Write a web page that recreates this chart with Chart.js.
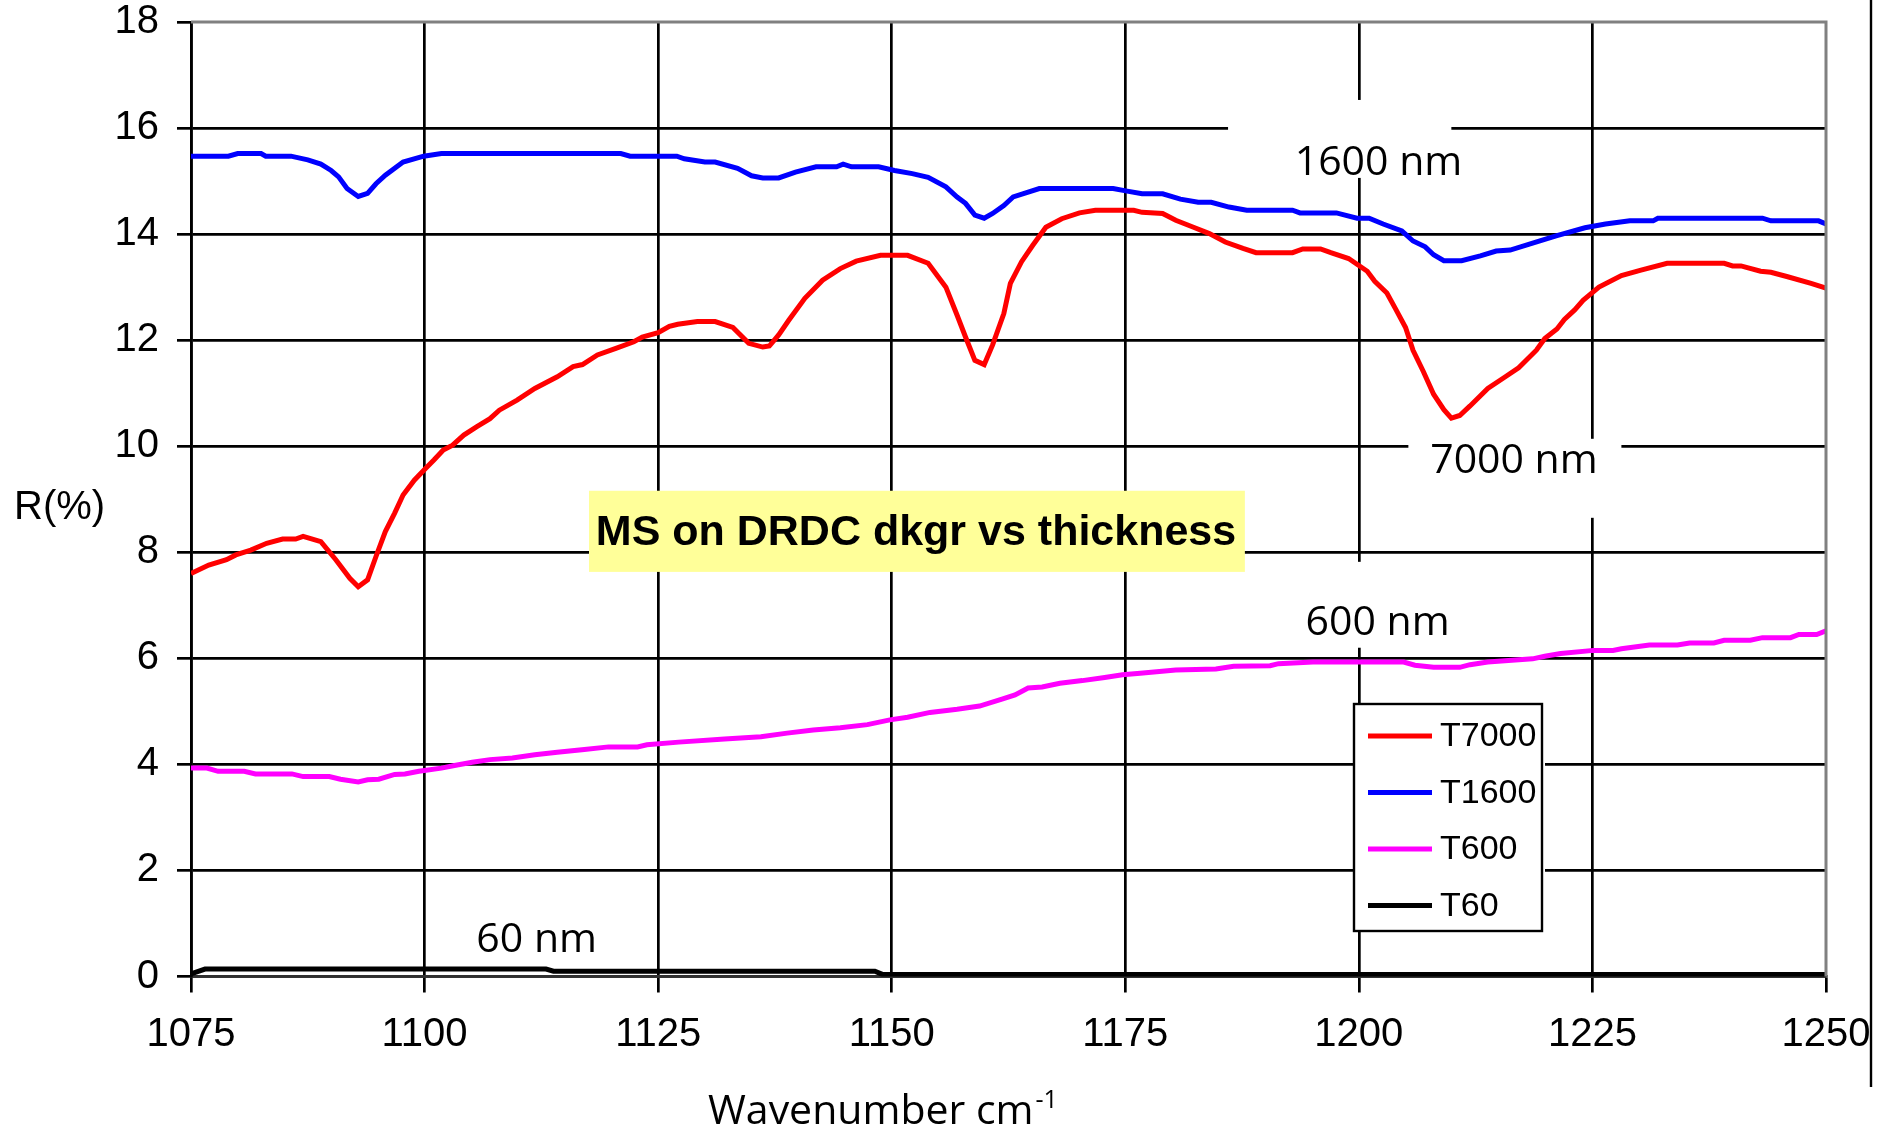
<!DOCTYPE html>
<html><head><meta charset="utf-8">
<script src="https://cdn.jsdelivr.net/npm/chart.js@4.4.1/dist/chart.umd.min.js"></script>
<style>html,body{margin:0;padding:0;background:#fff}#wrap{width:1882px;height:1128px;position:relative}</style>
</head><body><div id="wrap"><canvas id="c" width="1882" height="1128"></canvas></div>
<script>
// ---------------- DATA ----------------
const seriesNames = ['T7000', 'T1600', 'T600', 'T60'];
const seriesColors = ['#FF0000', '#0000FF', '#FF00FF', '#000000'];

const T7000 = [[1075,7.6],[1076.9,7.76],[1078.8,7.86],[1079.8,7.95],[1081.4,8.04],[1083.1,8.17],[1084.8,8.25],[1086.2,8.25],[1087,8.3],[1088.9,8.2],[1090.5,7.86],[1092,7.51],[1092.9,7.35],[1093.9,7.48],[1094.8,7.92],[1095.8,8.39],[1096.8,8.74],[1097.7,9.08],[1098.9,9.36],[1100.1,9.58],[1101,9.74],[1102,9.93],[1103,10.02],[1104.2,10.21],[1105.6,10.37],[1107,10.52],[1108,10.68],[1109.9,10.87],[1111.8,11.09],[1114.2,11.31],[1115.9,11.5],[1116.9,11.54],[1118.5,11.72],[1120.4,11.84],[1122.4,11.97],[1123.3,12.06],[1125,12.14],[1126.2,12.26],[1127.1,12.3],[1129.2,12.35],[1131.1,12.35],[1133,12.24],[1134.7,11.94],[1136.2,11.87],[1136.9,11.89],[1137.9,12.1],[1139,12.38],[1140.7,12.79],[1142.6,13.13],[1144.5,13.35],[1146.2,13.49],[1148.8,13.6],[1151.7,13.6],[1153.9,13.45],[1155.8,13.0],[1157,12.47],[1157.9,12.06],[1158.9,11.62],[1159.9,11.54],[1160.8,11.91],[1162,12.5],[1162.7,13.07],[1163.9,13.48],[1165.1,13.79],[1166.5,14.13],[1168.2,14.29],[1170.1,14.4],[1171.8,14.45],[1175.9,14.45],[1176.8,14.41],[1179,14.39],[1180.4,14.26],[1182.3,14.13],[1184,14.01],[1185.7,13.85],[1187.6,13.73],[1189,13.65],[1192.9,13.65],[1194,13.72],[1195.9,13.72],[1197,13.65],[1198.9,13.54],[1200.9,13.3],[1201.7,13.11],[1203,12.89],[1203.9,12.6],[1205,12.24],[1205.8,11.81],[1206.9,11.41],[1208,10.98],[1209.1,10.69],[1209.9,10.53],[1210.8,10.58],[1211.9,10.76],[1213.8,11.09],[1215.6,11.3],[1217.1,11.48],[1219,11.81],[1219.9,12.03],[1221.2,12.21],[1222,12.39],[1223.1,12.57],[1224,12.75],[1225.7,13.0],[1228.1,13.22],[1230.2,13.32],[1233,13.45],[1239.1,13.45],[1240,13.4],[1240.9,13.4],[1243,13.3],[1244.1,13.28],[1245.8,13.2],[1248.4,13.07],[1250,12.98]];

const T1600 = [[1075,15.47],[1077,15.47],[1079,15.47],[1080,15.52],[1082.5,15.52],[1083,15.47],[1085.7,15.47],[1087.5,15.4],[1088.9,15.32],[1090,15.2],[1090.8,15.08],[1091.7,14.86],[1092.9,14.71],[1093.9,14.77],[1094.8,14.95],[1095.8,15.11],[1097.7,15.36],[1099.9,15.47],[1101.8,15.52],[1121,15.52],[1122,15.47],[1127,15.47],[1127.8,15.42],[1130,15.36],[1131.1,15.36],[1133.5,15.24],[1135,15.1],[1136.2,15.06],[1137.9,15.06],[1139.7,15.17],[1141.9,15.27],[1144.1,15.27],[1144.8,15.32],[1145.7,15.27],[1148.6,15.27],[1150.3,15.2],[1152.2,15.14],[1153.9,15.07],[1155.8,14.89],[1157,14.7],[1157.9,14.58],[1158.9,14.36],[1159.9,14.3],[1160.8,14.39],[1162,14.54],[1163,14.7],[1165.8,14.86],[1173.7,14.86],[1175.2,14.81],[1176.8,14.76],[1179,14.76],[1180.9,14.66],[1182.8,14.6],[1184.2,14.6],[1186.1,14.51],[1188,14.45],[1192.9,14.45],[1193.7,14.4],[1197.6,14.4],[1199.8,14.3],[1201.1,14.3],[1202.6,14.19],[1204.6,14.06],[1205.8,13.87],[1207.1,13.76],[1208,13.61],[1209.1,13.5],[1211,13.5],[1213,13.59],[1214.7,13.68],[1216.2,13.7],[1218.6,13.83],[1221.2,13.97],[1224.2,14.12],[1226.4,14.19],[1229,14.25],[1231.5,14.25],[1232,14.3],[1243.2,14.3],[1244.1,14.25],[1249.2,14.25],[1250,14.19]];

const T600 = [[1075,3.93],[1076.7,3.93],[1077.9,3.87],[1080.7,3.87],[1081.9,3.82],[1085.8,3.82],[1087,3.77],[1089.8,3.77],[1091,3.72],[1092.9,3.67],[1093.9,3.71],[1095.1,3.72],[1096.8,3.81],[1097.9,3.82],[1099.4,3.87],[1101.8,3.93],[1103.2,3.98],[1105.1,4.04],[1107,4.09],[1109.4,4.12],[1111.8,4.18],[1114.2,4.23],[1117.1,4.28],[1119.7,4.33],[1122.8,4.33],[1123.8,4.37],[1127.2,4.42],[1132.1,4.48],[1136,4.52],[1138.8,4.59],[1141.6,4.65],[1144.5,4.69],[1147.4,4.75],[1149.8,4.84],[1151.7,4.89],[1154.1,4.98],[1157,5.04],[1159.4,5.1],[1161.8,5.23],[1163.2,5.31],[1164.6,5.44],[1166.1,5.46],[1168,5.53],[1170.4,5.58],[1172.8,5.64],[1174.7,5.69],[1176.6,5.72],[1180.4,5.78],[1184.7,5.8],[1186.6,5.85],[1190.5,5.86],[1191.4,5.9],[1195.1,5.93],[1204.8,5.93],[1206,5.87],[1208,5.83],[1210.8,5.83],[1211.9,5.88],[1213.8,5.93],[1216,5.96],[1218.6,5.99],[1219.9,6.04],[1221.6,6.09],[1225.1,6.15],[1227.2,6.15],[1228.1,6.18],[1231.1,6.25],[1234.1,6.25],[1235.4,6.29],[1238,6.29],[1239.1,6.34],[1241.9,6.34],[1243.2,6.39],[1246.2,6.39],[1247.1,6.45],[1249,6.45],[1250,6.52]];

const T60 = [[1075,0.05],[1076.5,0.14],[1113,0.14],[1113.8,0.1],[1148.2,0.1],[1149,0.04],[1250,0.04]];

const xTickValues = [1075, 1100, 1125, 1150, 1175, 1200, 1225, 1250];
const yTickValues = [0, 2, 4, 6, 8, 10, 12, 14, 16, 18];

const chartTitle = 'MS on DRDC dkgr vs thickness';
const yAxisTitle = 'R(%)';
const xAxisTitle = 'Wavenumber cm';
const xAxisTitleSup = '-1';
const curveLabels = ['1600 nm', '7000 nm', '600 nm', '60 nm'];

// ---------------- LAYOUT (data coordinates for anchors) ----------------
const labelAnchors = [
  {cx: 1202.1, base: 15.12, box: [1186.0, 16.53, 1209.9, 15.06]},
  {cx: 1216.6, base: 9.50, box: [1205.3, 10.14, 1228.1, 8.65]},
  {cx: 1202.0, base: 6.44, box: [1192.7, 7.82, 1211.4, 6.20]},
  {cx: 1112.0, base: 0.47, box: null}
];
const titleLayout = {cx: 1152.6, base: 8.14, box: [1117.6, 9.16, 1187.8, 7.63]};

const seriesList = [T7000, T1600, T600, T60];
const datasets = seriesList.map((s, i) => ({
  label: seriesNames[i],
  data: s.map(p => ({x: p[0], y: p[1]})),
  borderColor: seriesColors[i],
  backgroundColor: seriesColors[i],
  borderWidth: 5,
  pointRadius: 0,
  tension: 0,
  fill: false
}));

const ARIAL = "'Liberation Sans', Arial, sans-serif";
const CALIBRI = "'Open Sans', 'Noto Sans', sans-serif";

const overlay = {
  id: 'overlay',
  beforeDatasetsDraw(chart) {
    const {ctx, scales: {x, y}} = chart;
    ctx.save();
    labelAnchors.forEach((a) => {
      if (a.box) {
        const x0 = x.getPixelForValue(a.box[0]), y0 = y.getPixelForValue(a.box[1]);
        const x1 = x.getPixelForValue(a.box[2]), y1 = y.getPixelForValue(a.box[3]);
        ctx.fillStyle = '#FFFFFF';
        ctx.fillRect(x0, y0, x1 - x0, y1 - y0);
      }
    });
    {
      const b = titleLayout.box;
      const x0 = x.getPixelForValue(b[0]), y0 = y.getPixelForValue(b[1]);
      const x1 = x.getPixelForValue(b[2]), y1 = y.getPixelForValue(b[3]);
      ctx.fillStyle = '#FFFF99';
      ctx.fillRect(x0, y0, x1 - x0, y1 - y0);
      ctx.fillStyle = '#000';
      ctx.font = "bold 43px " + ARIAL;
      ctx.textAlign = 'center';
      ctx.textBaseline = 'alphabetic';
      ctx.fillText(chartTitle, x.getPixelForValue(titleLayout.cx), y.getPixelForValue(titleLayout.base));
    }
    ctx.font = "41px " + CALIBRI;
    ctx.fillStyle = '#000';
    ctx.textAlign = 'center';
    ctx.textBaseline = 'alphabetic';
    labelAnchors.forEach((a, i) => {
      ctx.fillText(curveLabels[i], x.getPixelForValue(a.cx), y.getPixelForValue(a.base));
    });
    ctx.restore();
  },
  afterDatasetsDraw(chart) {
    const {ctx, chartArea} = chart;
    ctx.save();
    ctx.strokeStyle = '#808080';
    ctx.lineWidth = 3;
    ctx.beginPath();
    ctx.moveTo(chartArea.left, chartArea.top);
    ctx.lineTo(chartArea.right, chartArea.top);
    ctx.lineTo(chartArea.right, chartArea.bottom);
    ctx.stroke();
    // legend
    const lx = 1354, ly = 704, lw = 188, lh = 227;
    ctx.fillStyle = '#FFFFFF';
    ctx.fillRect(lx, ly, lw + 3, lh);
    ctx.strokeStyle = '#000';
    ctx.lineWidth = 2.4;
    ctx.strokeRect(lx, ly, lw, lh);
    ctx.font = "34px " + ARIAL;
    ctx.textAlign = 'left';
    ctx.textBaseline = 'middle';
    chart.data.datasets.forEach((ds, i) => {
      const cy = ly + 32 + i * 56.5;
      ctx.strokeStyle = ds.borderColor;
      ctx.lineWidth = 5;
      ctx.beginPath();
      ctx.moveTo(lx + 14, cy);
      ctx.lineTo(lx + 78, cy);
      ctx.stroke();
      ctx.fillStyle = '#000';
      ctx.fillText(ds.label, lx + 86, cy + 1);
    });
    ctx.font = "40px " + ARIAL;
    ctx.textAlign = 'left';
    ctx.textBaseline = 'middle';
    ctx.fillText(yAxisTitle, 14, 508);
    ctx.font = "41px " + CALIBRI;
    ctx.textBaseline = 'alphabetic';
    ctx.fillText(xAxisTitle, 708, 1124);
    const w = ctx.measureText(xAxisTitle).width;
    ctx.font = "25px " + CALIBRI;
    ctx.fillText(xAxisTitleSup, 708 + w + 2, 1108);
    ctx.strokeStyle = '#000';
    ctx.lineWidth = 2.4;
    ctx.beginPath();
    ctx.moveTo(1871, 0);
    ctx.lineTo(1871, 1087);
    ctx.stroke();
    ctx.restore();
  }
};

new Chart(document.getElementById('c'), {
  type: 'line',
  data: {datasets},
  options: {
    responsive: false,
    animation: false,
    events: [],
    layout: {padding: {top: 22, right: 56, left: 0, bottom: 0}},
    plugins: {legend: {display: false}, tooltip: {enabled: false}, title: {display: false}},
    scales: {
      x: {
        type: 'linear', min: 1075, max: 1250,
        afterBuildTicks(scale) { scale.ticks = xTickValues.map(v => ({value: v})); },
        afterFit(scale) { scale.height = 151.5; scale.paddingLeft = 0; scale.paddingRight = 0; },
        ticks: {color: '#000', font: {family: ARIAL, size: 40, lineHeight: 1}, padding: 22, maxRotation: 0, autoSkip: false,
                callback: v => String(v)},
        grid: {
          color: ctx => (ctx.tick && ctx.tick.value === 1250) ? 'rgba(0,0,0,0)' : '#000',
          lineWidth: 2.7, tickLength: 16, tickColor: '#000', tickWidth: 2.7
        },
        border: {display: true, color: '#303030', width: 2.7}
      },
      y: {
        min: 0, max: 18,
        afterBuildTicks(scale) { scale.ticks = yTickValues.map(v => ({value: v})); },
        afterFit(scale) { scale.width = 191; scale.paddingTop = 0; scale.paddingBottom = 0; },
        ticks: {color: '#000', font: {family: ARIAL, size: 40, lineHeight: 1}, padding: 18,
                callback: v => String(v)},
        grid: {
          color: ctx => (ctx.tick && ctx.tick.value === 18) ? 'rgba(0,0,0,0)' : '#000',
          lineWidth: 2.7, tickLength: 14, tickColor: '#000', tickWidth: 2.7
        },
        border: {display: true, color: '#000', width: 2.7}
      }
    }
  },
  plugins: [overlay]
});
</script>
</body></html>
